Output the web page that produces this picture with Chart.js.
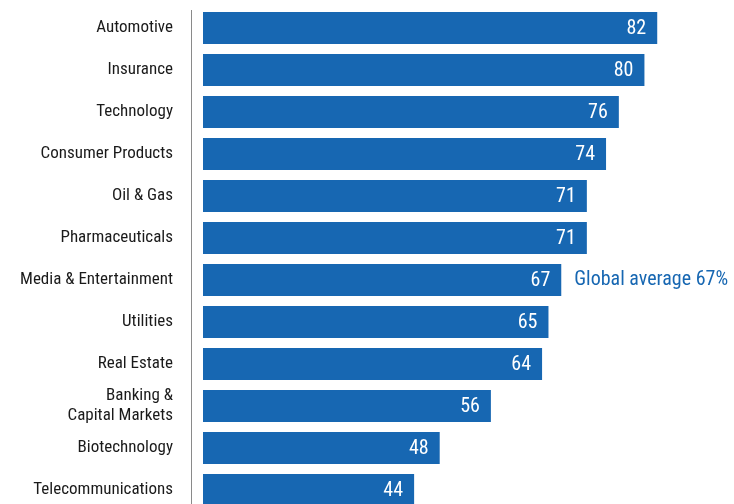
<!DOCTYPE html>
<html>
<head>
<meta charset="utf-8">
<script src="https://cdn.jsdelivr.net/npm/chart.js@4/dist/chart.umd.min.js"></script>
<style>
  html, body { margin: 0; padding: 0; background: #fff; overflow: hidden; }
  #wrap { width: 734px; height: 504px; overflow: hidden; }
</style>
</head>
<body>
<div id="wrap">
  <canvas id="industryChart" width="734" height="511"></canvas>
</div>
<script>
const industries = [
  "Automotive",
  "Insurance",
  "Technology",
  "Consumer Products",
  "Oil & Gas",
  "Pharmaceuticals",
  "Media & Entertainment",
  "Utilities",
  "Real Estate",
  ["Banking &", "Capital Markets"],
  "Biotechnology",
  "Telecommunications"
];
const scores = [82, 80, 76, 74, 71, 71, 67, 65, 64, 56, 48, 44];
const globalAverage = 67;
const averageLabel = "Global average " + globalAverage + "%";

const FONT = "'Roboto Condensed', 'DejaVu Sans Condensed', sans-serif";
const BLUE = "#1767b2";

// white value inside the end of each bar, plus the average note beside the matching bar
const barLabels = {
  id: "barLabels",
  afterDatasetsDraw(chart) {
    const c = chart.ctx;
    const bars = chart.getDatasetMeta(0).data;
    c.save();
    c.textBaseline = "middle";
    bars.forEach((bar, i) => {
      c.font = "20px " + FONT;
      c.fillStyle = "#ffffff";
      c.textAlign = "right";
      c.fillText(String(scores[i]), bar.x - 11, bar.y + 1);
      if (scores[i] === globalAverage && i === industries.indexOf("Media & Entertainment")) {
        c.font = "20px " + FONT;
        c.fillStyle = BLUE;
        c.textAlign = "left";
        c.fillText(averageLabel, bar.x + 13, bar.y);
      }
    });
    c.restore();
  }
};

// thin grey rule to the left of the bars
const leftRule = {
  id: "leftRule",
  beforeDatasetsDraw(chart) {
    const c = chart.ctx;
    const x = chart.chartArea.left - 11.5;
    c.save();
    c.strokeStyle = "#8a8a8a";
    c.lineWidth = 1;
    c.beginPath();
    c.moveTo(x, chart.chartArea.top + 3);
    c.lineTo(x, chart.height);
    c.stroke();
    c.restore();
  }
};

const ctx = document.getElementById("industryChart").getContext("2d");
const chart = new Chart(ctx, {
  type: "bar",
  data: {
    labels: industries,
    datasets: [{
      data: scores,
      backgroundColor: BLUE,
      borderWidth: 0,
      barPercentage: 0.76,
      categoryPercentage: 1
    }]
  },
  options: {
    indexAxis: "y",
    responsive: false,
    animation: false,
    layout: { padding: { top: 7, right: 0, bottom: 0, left: 0 } },
    plugins: {
      legend: { display: false },
      tooltip: { enabled: false }
    },
    scales: {
      x: {
        display: false,
        min: 11,
        max: 94
      },
      y: {
        grid: { display: false, drawTicks: false },
        border: { display: false },
        ticks: {
          padding: 30,
          color: "#1a1a1a",
          font: { family: FONT, size: 17 },
          autoSkip: false
        },
        afterFit(axis) {
          axis.width = 203;
          axis.paddingTop = 0;
          axis.paddingBottom = 0;
        }
      }
    }
  },
  plugins: [barLabels, leftRule]
});
</script>
</body>
</html>
